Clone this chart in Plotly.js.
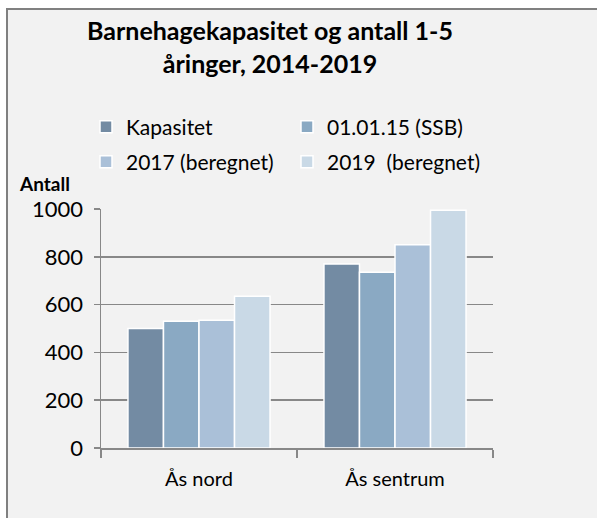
<!DOCTYPE html>
<html>
<head>
<meta charset="utf-8">
<script src="https://cdn.plot.ly/plotly-3.0.1.min.js"></script>
<style>html,body{margin:0;padding:0;background:#fff;}#chart{width:597px;height:518px;}</style>
</head>
<body>
<div id="chart"></div>
<script>
const categories = ['Ås nord', 'Ås sentrum'];
const seriesNames = ['Kapasitet', '01.01.15 (SSB)', '2017 (beregnet)', '2019  (beregnet)'];
const kapasitet = [500, 770];
const ssb2015 = [530, 735];
const beregnet2017 = [535, 850];
const beregnet2019 = [635, 995];
const yTicks = [0, 200, 400, 600, 800, 1000];
const colors = ['#738ba3', '#8aa9c3', '#aac0d8', '#c9d9e6'];

const W = 597, H = 518;
const M = {l: 101, r: 104, t: 209, b: 70};
const PW = W - M.l - M.r, PH = H - M.t - M.b;
const px = x => (x - M.l) / PW;
const py = y => (H - M.b - y) / PH;

const FONT = 'Lato, "Open Sans", sans-serif';
const values = [kapasitet, ssb2015, beregnet2017, beregnet2019];
const legendOf = ['legend', 'legend', 'legend2', 'legend2'];

const traces = values.map((v, i) => ({
  type: 'bar',
  name: seriesNames[i],
  x: categories,
  y: v,
  legend: legendOf[i],
  marker: {color: colors[i], line: {color: '#ffffff', width: 1.5}},
  hoverinfo: 'x+y+name'
}));

const legendCommon = {
  orientation: 'h',
  bgcolor: 'rgba(0,0,0,0)',
  borderwidth: 0,
  font: {family: FONT, size: 21, color: '#000'},
  itemwidth: 30,
  entrywidth: 156,
  entrywidthmode: 'pixels',
  xanchor: 'left',
  yanchor: 'middle',
  traceorder: 'normal'
};

const layout = {
  width: W, height: H,
  margin: M,
  paper_bgcolor: '#ffffff',
  plot_bgcolor: 'rgba(0,0,0,0)',
  font: {family: FONT, size: 20, color: '#000'},
  title: {
    text: '<b>Barnehagekapasitet og antall 1-5<br>åringer, 2014-2019</b>',
    font: {family: FONT, size: 25, color: '#000'},
    xref: 'container', yref: 'container',
    x: 270 / W, xanchor: 'center',
    y: 1 - 40 / H, yanchor: 'top'
  },
  barmode: 'group',
  bargap: 0.275,
  bargroupgap: 0,
  xaxis: {
    type: 'category',
    showline: true, linecolor: '#888888', linewidth: 1.5,
    ticks: 'outside', tickson: 'boundaries', ticklen: 8, tickcolor: '#888888', tickwidth: 1.5,
    showgrid: false,
    tickfont: {family: FONT, size: 20, color: '#000'},
    ticklabelstandoff: 12
  },
  yaxis: {
    range: [0, 1000],
    tickvals: yTicks,
    ticktext: yTicks.map(String),
    showline: true, linecolor: '#888888', linewidth: 1.5,
    ticks: 'outside', ticklen: 6, tickcolor: '#888888', tickwidth: 1.5,
    showgrid: true, gridcolor: '#888888', gridwidth: 1.5,
    zeroline: false,
    tickfont: {family: FONT, size: 22, color: '#000'},
    ticklabelstandoff: 6
  },
  legend: Object.assign({}, legendCommon, {x: px(86), y: py(127)}),
  legend2: Object.assign({}, legendCommon, {x: px(86), y: py(162)}),
  shapes: [{
    type: 'rect', xref: 'paper', yref: 'paper', layer: 'below',
    x0: px(7), x1: px(620), y0: py(540), y1: py(9),
    fillcolor: '#f2f2f2', line: {color: '#808080', width: 2}
  }],
  annotations: [{
    text: '<b>Antall</b>', showarrow: false,
    xref: 'paper', yref: 'paper', x: px(17), xanchor: 'left',
    y: py(183), yanchor: 'middle',
    font: {family: FONT, size: 19, color: '#000'}
  }]
};

Plotly.newPlot('chart', traces, layout, {displayModeBar: false, staticPlot: true});
</script>
</body>
</html>
